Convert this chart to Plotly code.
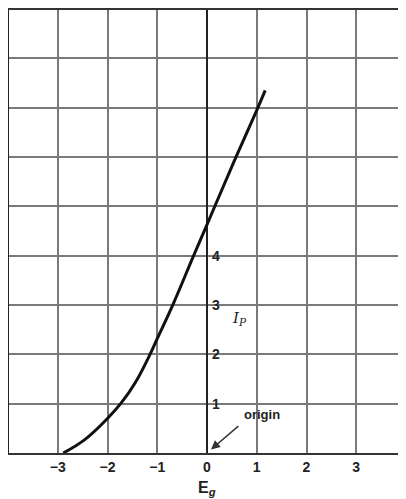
import plotly.graph_objects as go

# Curve values (grid volts vs plate current)
eg = [-2.89, -2.47, -2.0, -1.72, -1.44, -1.16, -1.0, -0.68, -0.29, 0.0, 0.54, 1.01, 1.17]
ip = [0.0, 0.26, 0.70, 1.02, 1.43, 1.97, 2.32, 3.02, 3.95, 4.63, 5.9, 6.97, 7.35]

x_ticks = [-4, -3, -2, -1, 0, 1, 2, 3, 4]
x_labels = ["", "<b>\u22123</b>", "<b>\u22122</b>", "<b>\u22121</b>", "<b>0</b>", "<b>1</b>", "<b>2</b>", "<b>3</b>", ""]
y_grid = [0, 1, 2, 3, 4, 5, 6, 7, 8, 9]
y_labels = [1, 2, 3, 4]

fig = go.Figure()
fig.add_trace(go.Scatter(x=eg, y=ip, mode="lines", line=dict(color="#111", width=3, shape="spline", smoothing=1.2),
                         hoverinfo="skip", showlegend=False))

font = dict(family="Liberation Sans, Arial, sans-serif", size=14, color="#222")

for v in y_labels:
    fig.add_annotation(x=0, y=v, text=f"<b>{v}</b>", showarrow=False, xanchor="left", yanchor="middle",
                       xshift=3, font=font)

fig.add_annotation(x=0.66, y=2.73, text="<i>I<sub>P</sub></i>", showarrow=False,
                   font=dict(family="DejaVu Serif, serif", size=15, color="#222"))
fig.add_annotation(x=0.08, y=0.07, ax=0.66, ay=0.57, axref="x", ayref="y", text="", showarrow=True,
                   arrowhead=2, arrowsize=1.2, arrowwidth=1.5, arrowcolor="#333")
fig.add_annotation(x=1.1, y=0.78, text="<b>origin</b>", showarrow=False,
                   font=dict(family="Liberation Sans, Arial, sans-serif", size=13, color="#222"))
fig.add_annotation(x=0, y=0, yshift=-35, text="<b>E<sub><i>g</i></sub></b>", showarrow=False, yanchor="middle",
                   font=dict(family="Liberation Sans, Arial, sans-serif", size=16, color="#222"))

# The page body adds an 8px offset, so the figure is sized to the remaining viewport
fig.update_layout(
    width=398, height=491,
    margin=dict(l=1, r=0, t=2, b=46, autoexpand=False),
    paper_bgcolor="white", plot_bgcolor="white",
    xaxis=dict(range=[-3.98, 4.0], tickvals=x_ticks, ticktext=x_labels, showgrid=True, gridcolor="#7a7a7a", gridwidth=1.5,
               zeroline=True, zerolinecolor="#222", zerolinewidth=2, showline=True, mirror=True, linecolor="#333", linewidth=2,
               ticks="", automargin=False,
               tickfont=dict(family="Liberation Sans, Arial, sans-serif", size=14, color="#222"),
               fixedrange=True),
    yaxis=dict(range=[0, 8.98], tickvals=y_grid, showticklabels=False, showgrid=True, gridcolor="#7a7a7a", gridwidth=1.5,
               zeroline=False, showline=True, linecolor="#222", linewidth=2, ticks="", automargin=False,
               fixedrange=True),
)

fig.write_html("out.html")
